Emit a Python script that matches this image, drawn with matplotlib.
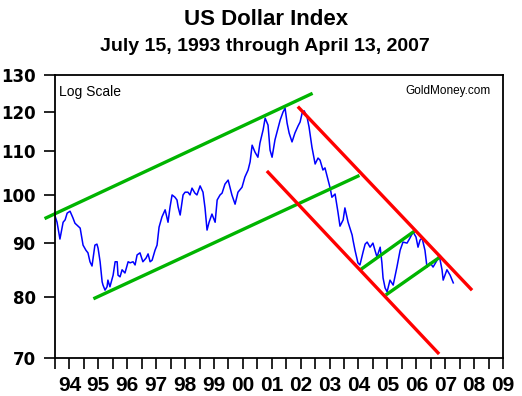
import numpy as np
import matplotlib
matplotlib.use("Agg")
import matplotlib.pyplot as plt
from matplotlib.ticker import FixedLocator, NullLocator, FixedFormatter

# US Dollar Index (decimal year, index value)
years = [1993.50, 1993.57, 1993.67, 1993.78, 1993.85, 1993.92, 1994.02, 1994.12, 1994.19, 1994.30,
         1994.37, 1994.47, 1994.57, 1994.64, 1994.71, 1994.78, 1994.88, 1994.95, 1994.99, 1995.06,
         1995.13, 1995.16, 1995.23, 1995.30, 1995.33, 1995.40, 1995.51, 1995.58, 1995.65, 1995.68,
         1995.75, 1995.82, 1995.92, 1996.03, 1996.10, 1996.20, 1996.27, 1996.34, 1996.44, 1996.54,
         1996.65, 1996.72, 1996.79, 1996.86, 1996.96, 1997.03, 1997.10, 1997.20, 1997.31, 1997.41,
         1997.48, 1997.55, 1997.65, 1997.72, 1997.76, 1997.83, 1997.93, 1998.00, 1998.10, 1998.17,
         1998.24, 1998.34, 1998.41, 1998.52, 1998.62, 1998.69, 1998.76, 1998.83, 1998.93, 1999.04,
         1999.11, 1999.21, 1999.28, 1999.38, 1999.49, 1999.56, 1999.62, 1999.73, 1999.83, 1999.97,
         2000.07, 2000.18, 2000.25, 2000.32, 2000.42, 2000.52, 2000.59, 2000.70, 2000.77, 2000.87,
         2000.94, 2001.01, 2001.11, 2001.22, 2001.29, 2001.39, 2001.46, 2001.53, 2001.60, 2001.70,
         2001.80, 2001.91, 2001.98, 2002.05, 2002.12, 2002.22, 2002.29, 2002.39, 2002.50, 2002.60,
         2002.67, 2002.77, 2002.84, 2002.95, 2003.02, 2003.08, 2003.19, 2003.29, 2003.36, 2003.47,
         2003.53, 2003.64, 2003.78, 2003.81, 2003.88, 2003.98, 2004.05, 2004.16, 2004.23, 2004.30,
         2004.40, 2004.50, 2004.57, 2004.64, 2004.75, 2004.81, 2004.85, 2004.92, 2004.99, 2005.09,
         2005.20, 2005.33, 2005.44, 2005.54, 2005.68, 2005.78, 2005.89, 2005.99, 2006.06, 2006.13,
         2006.20, 2006.30, 2006.37, 2006.48, 2006.58, 2006.72, 2006.79, 2006.89, 2006.93, 2007.06,
         2007.17, 2007.28]
usdx = [95.5, 94.2, 90.8, 94.2, 94.7, 96.1, 96.5, 95.1, 94.0, 93.4,
        93.0, 89.6, 88.6, 88.1, 86.4, 85.6, 89.6, 89.8, 89.0, 86.4,
        82.7, 82.1, 81.2, 81.8, 83.0, 81.8, 83.9, 86.4, 86.4, 83.9,
        83.6, 84.9, 84.3, 86.4, 86.2, 86.4, 85.8, 87.7, 88.1, 86.4,
        87.1, 87.9, 86.4, 86.7, 88.6, 89.6, 93.2, 95.3, 96.8, 94.2,
        97.4, 100.0, 99.5, 98.9, 97.4, 95.7, 100.0, 100.6, 100.6, 100.0,
        101.5, 100.4, 100.0, 102.0, 100.6, 97.2, 92.6, 94.2, 95.9, 94.2,
        98.9, 100.0, 100.4, 102.4, 103.3, 101.5, 100.0, 98.0, 100.6, 101.7,
        104.0, 105.6, 107.5, 111.5, 109.8, 108.6, 112.0, 115.3, 118.3, 116.5,
        110.3, 108.6, 112.8, 115.8, 117.8, 119.9, 120.9, 117.0, 114.5, 112.3,
        114.5, 116.3, 117.3, 119.6, 120.2, 118.6, 116.0, 111.0, 107.0, 108.4,
        107.9, 105.6, 106.1, 103.3, 101.5, 99.5, 100.2, 96.3, 93.4, 94.7,
        97.2, 94.2, 91.6, 90.6, 88.6, 86.2, 85.8, 88.3, 89.8, 90.2,
        89.2, 90.0, 88.6, 87.3, 89.2, 86.2, 83.4, 81.6, 80.9, 83.0,
        82.1, 85.4, 88.6, 90.2, 90.0, 91.0, 92.2, 91.2, 89.2, 90.6,
        91.0, 88.6, 85.4, 86.2, 85.4, 86.7, 87.7, 84.9, 83.0, 84.9,
        83.9, 82.5]

# trend channels: (start year, start value, end year, end value)
green_lines = [(1993.19, 95.1, 2002.36, 124.7),
               (1994.88, 79.8, 2003.98, 104.2),
               (2004.09, 85.0, 2005.89, 92.2),
               (2004.99, 80.5, 2006.82, 87.3)]
red_lines = [(2001.94, 121.0, 2007.89, 81.4),
             (2000.87, 105.1, 2006.75, 70.8)]

ytick_vals = [70, 80, 90, 100, 110, 120, 130]
year_ticks = list(range(1994, 2010))
year_labels = ["%02d" % (y % 100) for y in year_ticks]

fig = plt.figure(figsize=(5.22, 3.96), dpi=100)
ax = fig.add_axes([0.1054, 0.0960, 0.8582, 0.7146])

ax.plot(years, usdx, color="#0000ff", lw=1.1)
for x0, y0, x1, y1 in green_lines:
    ax.plot([x0, x1], [y0, y1], color="#00b400", lw=2.4, clip_on=False)
for x0, y0, x1, y1 in red_lines:
    ax.plot([x0, x1], [y0, y1], color="#ff0000", lw=2.4, clip_on=False)

ax.set_yscale("log")
ax.set_ylim(70, 130)
ax.set_xlim(1993.5, 2009.0)
ax.yaxis.set_major_locator(FixedLocator(ytick_vals))
ax.yaxis.set_major_formatter(FixedFormatter([str(v) for v in ytick_vals]))
ax.yaxis.set_minor_locator(NullLocator())
ax.xaxis.set_major_locator(FixedLocator(year_ticks))
ax.xaxis.set_major_formatter(FixedFormatter(year_labels))
ax.xaxis.set_minor_locator(FixedLocator([y + 0.5 for y in range(1993, 2009)]))

ax.tick_params(axis="y", which="major", direction="out", length=8, width=1.2, pad=6)
ax.tick_params(axis="x", which="both", direction="out", length=8, width=1.2, pad=5)
for lab in ax.get_yticklabels():
    lab.set_fontweight("bold")
    lab.set_fontsize(12)
    lab.set_family("DejaVu Sans")
for lab in ax.get_xticklabels():
    lab.set_fontweight("bold")
    lab.set_fontsize(15)
    lab.set_family("Liberation Sans")
for s in ax.spines.values():
    s.set_linewidth(1.3)

ax.text(0.008, 0.965, "Log Scale", transform=ax.transAxes, fontsize=10,
        family="Liberation Sans", va="top", ha="left")
ax.text(0.972, 0.965, "GoldMoney.com", transform=ax.transAxes, fontsize=8.5,
        family="Liberation Sans", va="top", ha="right")

fig.text(0.51, 0.952, "US Dollar Index", ha="center", va="center",
         fontsize=16, fontweight="bold", family="Liberation Sans")
fig.text(0.507, 0.883, "July 15, 1993 through April 13, 2007", ha="center", va="center",
         fontsize=14, fontweight="bold", family="Liberation Sans")

fig.savefig("out.png", dpi=100)
